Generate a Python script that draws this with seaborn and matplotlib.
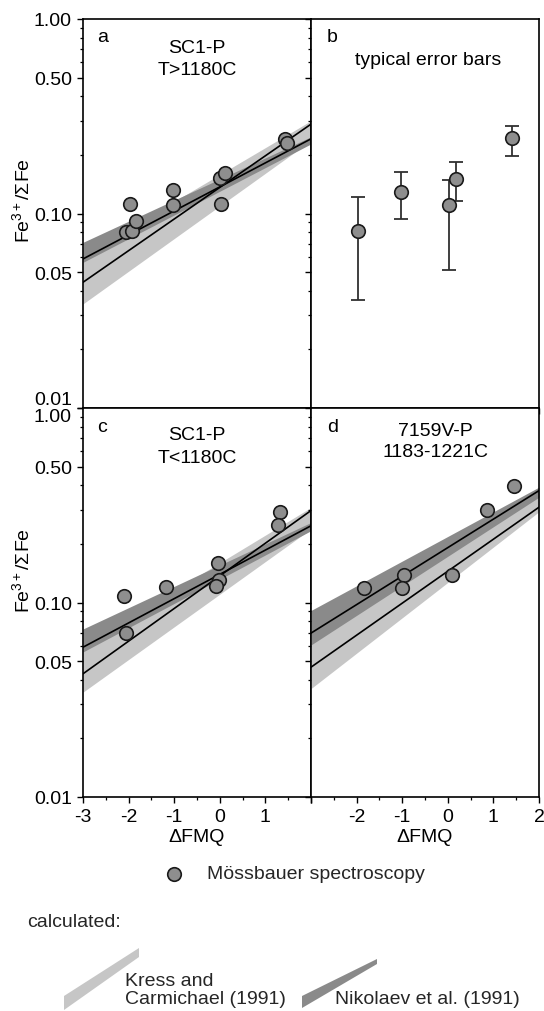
import numpy as np
import pandas as pd
import matplotlib
matplotlib.use("Agg")
import matplotlib.pyplot as plt
import seaborn as sns
from matplotlib.ticker import FixedLocator, FixedFormatter, NullFormatter

sns.set_theme(style="white")
plt.rcParams['font.family'] = ['Liberation Sans', 'DejaVu Sans']
plt.rcParams['mathtext.fontset'] = 'custom'
plt.rcParams['mathtext.rm'] = 'Liberation Sans'
plt.rcParams['mathtext.it'] = 'Liberation Sans:italic'
plt.rcParams['mathtext.bf'] = 'Liberation Sans:bold'
plt.rcParams['axes.unicode_minus'] = False

FS = 14

# ---------------- data ----------------
x_ends = [-3, 2]

# panel a : SC1-P  T>1180C
a_x = [-1.97, -2.06, -1.93, -1.84, -1.03, -1.03, 0.02, 0.00, 0.11, 1.43, 1.48]
a_y = [0.112, 0.080, 0.081, 0.091, 0.132, 0.111, 0.112, 0.152, 0.162, 0.242, 0.230]
kress_line_a = [0.0443, 0.288]
kress_lo_a = [0.0343, 0.237]
kress_hi_a = [0.061, 0.300]
nik_line_a = [0.0584, 0.242]
nik_lo_a = [0.0561, 0.228]
nik_hi_a = [0.0711, 0.248]

# panel b : typical error bars
b_x = [-1.96, -1.02, 0.02, 0.19, 1.40]
b_y = [0.0816, 0.129, 0.110, 0.150, 0.243]
b_hi = [0.121, 0.163, 0.149, 0.183, 0.282]
b_lo = [0.0359, 0.0933, 0.0512, 0.116, 0.198]

# panel c : SC1-P  T<1180C
c_x = [-2.10, -2.06, -1.18, -0.05, -0.02, -0.09, 1.32, 1.28]
c_y = [0.108, 0.0696, 0.120, 0.160, 0.131, 0.121, 0.291, 0.250]
kress_line_c = [0.043, 0.297]
kress_lo_c = [0.0346, 0.239]
kress_hi_c = [0.060, 0.308]
nik_line_c = [0.0589, 0.248]
nik_lo_c = [0.0557, 0.234]
nik_hi_c = [0.0731, 0.258]

# panel d : 7159V-P  1183-1221C
d_x = [-1.83, -0.95, -1.00, 0.10, 0.85, 1.46]
d_y = [0.119, 0.139, 0.119, 0.139, 0.299, 0.399]
kress_line_d = [0.0465, 0.309]
kress_lo_d = [0.0361, 0.293]
kress_hi_d = [0.062, 0.357]
nik_line_d = [0.0696, 0.376]
nik_lo_d = [0.0605, 0.348]
nik_hi_d = [0.091, 0.392]

y_major = [0.01, 0.05, 0.10, 0.50, 1.00]
y_major_labels = ['0.01', '0.05', '0.10', '0.50', '1.00']
y_minor = [0.02, 0.03, 0.04, 0.06, 0.07, 0.08, 0.09,
           0.2, 0.3, 0.4, 0.6, 0.7, 0.8, 0.9]
x_major = [-3, -2, -1, 0, 1, 2]
x_minor = [-2.5, -1.5, -0.5, 0.5, 1.5]
xlab_c = ['-3', '-2', '-1', '0', '1', '']
xlab_d = ['', '-2', '-1', '0', '1', '2']

LIGHT = '#c6c6c6'
DARK = '#8a8a8a'
MARK = '#8e8e8e'

# ---------------- figure ----------------
W, H = 544, 1012
fig = plt.figure(figsize=(W / 100, H / 100), dpi=100)

def frac(x0, y0, x1, y1):
    return [x0 / W, 1 - y1 / H, (x1 - x0) / W, (y1 - y0) / H]

axA = fig.add_axes(frac(83, 20, 311, 409))
axB = fig.add_axes(frac(311, 20, 539, 409))
axC = fig.add_axes(frac(83, 409, 311, 798))
axD = fig.add_axes(frac(311, 409, 539, 798))


def style(ax, ylabels, xlabels):
    ax.set_yscale('log')
    ax.set_xlim(-3, 2)
    ax.set_ylim(0.01, 1.0)
    ax.yaxis.set_major_locator(FixedLocator(y_major))
    ax.yaxis.set_minor_locator(FixedLocator(y_minor))
    ax.yaxis.set_minor_formatter(NullFormatter())
    if ylabels:
        ax.yaxis.set_major_formatter(FixedFormatter(y_major_labels))
    else:
        ax.yaxis.set_major_formatter(NullFormatter())
    ax.xaxis.set_major_locator(FixedLocator(x_major))
    ax.xaxis.set_minor_locator(FixedLocator(x_minor))
    if xlabels is not None:
        ax.xaxis.set_major_formatter(FixedFormatter(xlabels))
    else:
        ax.xaxis.set_major_formatter(NullFormatter())
    ax.tick_params(which='both', direction='out', colors='black',
                   labelsize=FS, left=True, bottom=True, top=False, right=False)
    ax.tick_params(which='major', length=4, width=1.0, pad=4)
    ax.tick_params(which='minor', length=2.5, width=0.9)
    for s in ax.spines.values():
        s.set_visible(True)
        s.set_color('black')
        s.set_linewidth(1.2)
    ax.set_facecolor('white')
    ax.grid(False)


def bands(ax, kl, klo, khi, nl, nlo, nhi):
    ax.fill_between(x_ends, klo, khi, color=LIGHT, lw=0, zorder=1)
    ax.fill_between(x_ends, nlo, nhi, color=DARK, lw=0, zorder=2)
    sns.lineplot(x=x_ends, y=kl, ax=ax, color='black', lw=1.2, zorder=3,
                 estimator=None, sort=False)
    sns.lineplot(x=x_ends, y=nl, ax=ax, color='black', lw=1.2, zorder=3,
                 estimator=None, sort=False)


def points(ax, x, y):
    sns.scatterplot(x=x, y=y, ax=ax, s=95, color=MARK, edgecolor='#1a1a1a',
                    linewidth=1.2, zorder=5, legend=False)


# panel a
bands(axA, kress_line_a, kress_lo_a, kress_hi_a, nik_line_a, nik_lo_a, nik_hi_a)
points(axA, a_x, a_y)
style(axA, True, None)

# panel b
yerr = [np.array(b_y) - np.array(b_lo), np.array(b_hi) - np.array(b_y)]
axB.errorbar(b_x, b_y, yerr=yerr, fmt='none', ecolor='#303030',
             elinewidth=1.3, capsize=5, capthick=1.3, zorder=3)
points(axB, b_x, b_y)
style(axB, False, None)

# panel c
bands(axC, kress_line_c, kress_lo_c, kress_hi_c, nik_line_c, nik_lo_c, nik_hi_c)
points(axC, c_x, c_y)
style(axC, True, xlab_c)

# panel d
bands(axD, kress_line_d, kress_lo_d, kress_hi_d, nik_line_d, nik_lo_d, nik_hi_d)
points(axD, d_x, d_y)
style(axD, False, xlab_d)

# separate overlapping labels at the a/c boundary
axA.yaxis.get_major_ticks()[0].label1.set_va('bottom')
axC.yaxis.get_major_ticks()[-1].label1.set_va('top')

# axis labels
ylab = 'Fe$^{3+}$/ΣFe'
for ax, yc in ((axA, 0.535), (axC, 0.585)):
    ax.set_ylabel(ylab, fontsize=FS, color='black')
    ax.yaxis.set_label_coords(-0.22, yc)
for ax in (axC, axD):
    ax.set_xlabel('ΔFMQ', fontsize=FS, color='black', labelpad=2)
axA.set_xlabel('')
axB.set_xlabel('')
axB.set_ylabel('')
axD.set_ylabel('')

# panel annotations
def t(ax, x, y, s, ha='center'):
    ax.text(x, y, s, transform=ax.transAxes, ha=ha, va='center',
            fontsize=FS, color='black')

t(axA, 0.06, 0.954, 'a', ha='left')
t(axA, 0.5, 0.928, 'SC1-P')
t(axA, 0.5, 0.871, 'T>1180C')
t(axB, 0.07, 0.954, 'b', ha='left')
t(axB, 0.513, 0.897, 'typical error bars')
t(axC, 0.06, 0.952, 'c', ha='left')
t(axC, 0.5, 0.933, 'SC1-P')
t(axC, 0.5, 0.874, 'T<1180C')
t(axD, 0.07, 0.952, 'd', ha='left')
t(axD, 0.544, 0.941, '7159V-P')
t(axD, 0.544, 0.887, '1183-1221C')

# ---------------- legend area ----------------
leg = fig.add_axes([0, 0, 1, 1], zorder=-1)
leg.set_xlim(0, W)
leg.set_ylim(H, 0)
leg.axis('off')
leg.patch.set_alpha(0)

sns.scatterplot(x=[174], y=[875], ax=leg, s=95, color=MARK,
                edgecolor='#1a1a1a', linewidth=1.2, legend=False)
leg.text(207, 875, 'Mössbauer spectroscopy', ha='left', va='center', fontsize=FS)
leg.text(27, 923, 'calculated:', ha='left', va='center', fontsize=FS)
leg.fill([64, 64, 139, 139], [997, 1011, 958, 949], color=LIGHT, lw=0)
leg.fill([302, 302, 377, 377], [997, 1009, 965, 960], color=DARK, lw=0)
leg.text(125, 982, 'Kress and', ha='left', va='center', fontsize=FS)
leg.text(125, 1000, 'Carmichael (1991)', ha='left', va='center', fontsize=FS)
leg.text(335, 1000, 'Nikolaev et al. (1991)', ha='left', va='center', fontsize=FS)

fig.savefig('out.png', dpi=100)
